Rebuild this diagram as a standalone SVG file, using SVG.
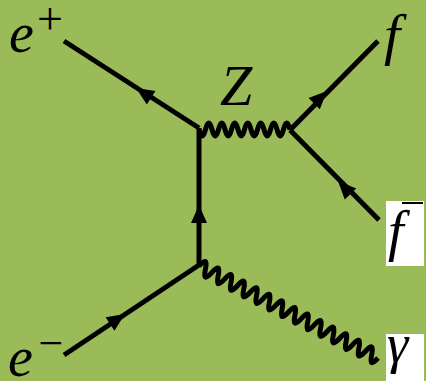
<svg xmlns="http://www.w3.org/2000/svg" xmlns:xlink="http://www.w3.org/1999/xlink" width="426" height="381" viewBox="0 0 426 381">
<style>
.f{stroke:#000;stroke-width:5;fill:none}
.w{stroke:#000;stroke-width:5;fill:none;stroke-linejoin:round}
.lbl{font-family:"Liberation Serif","DejaVu Serif",serif;font-style:italic;fill:#000}
.sup{font-family:"Liberation Serif","DejaVu Serif",serif;fill:#000}
</style>
<defs>
<polygon id="arr" points="0,0 -18,-8 -18,8" fill="#000"/>
</defs>
<rect width="426" height="381" fill="#9BBB59"/>
<g id="connectors">
<line class="f" x1="64" y1="41" x2="199" y2="128"/>
<line class="f" x1="199" y1="128" x2="199" y2="266"/>
<line class="f" x1="64" y1="355" x2="199" y2="265"/>
<line class="f" x1="290" y1="130" x2="378" y2="41"/>
<line class="f" x1="290" y1="130" x2="379" y2="220"/>
<path class="w" transform="translate(199,129.5)" d="M0,0 c2.28,8.6 4.23,8.6 6.5,0 c2.28,-8.6 4.23,-8.6 6.5,0 c2.28,8.6 4.23,8.6 6.5,0 c2.28,-8.6 4.23,-8.6 6.5,0 c2.28,8.6 4.23,8.6 6.5,0 c2.28,-8.6 4.23,-8.6 6.5,0 c2.28,8.6 4.23,8.6 6.5,0 c2.28,-8.6 4.23,-8.6 6.5,0 c2.28,8.6 4.23,8.6 6.5,0 c2.28,-8.6 4.23,-8.6 6.5,0 c2.28,8.6 4.23,8.6 6.5,0 c2.28,-8.6 4.23,-8.6 6.5,0 c2.28,8.6 4.23,8.6 6.5,0 c2.28,-8.6 4.23,-8.6 6.5,0"/>
<path class="w" transform="translate(199,266) rotate(27.2)" d="M0,0 c2.52,-9.3 4.67,-9.3 7.19,0 c2.52,9.3 4.67,9.3 7.19,0 c2.52,-9.3 4.67,-9.3 7.19,0 c2.52,9.3 4.67,9.3 7.19,0 c2.52,-9.3 4.67,-9.3 7.19,0 c2.52,9.3 4.67,9.3 7.19,0 c2.52,-9.3 4.67,-9.3 7.19,0 c2.52,9.3 4.67,9.3 7.19,0 c2.52,-9.3 4.67,-9.3 7.19,0 c2.52,9.3 4.67,9.3 7.19,0 c2.52,-9.3 4.67,-9.3 7.19,0 c2.52,9.3 4.67,9.3 7.19,0 c2.52,-9.3 4.67,-9.3 7.19,0 c2.52,9.3 4.67,9.3 7.19,0 c2.52,-9.3 4.67,-9.3 7.19,0 c2.52,9.3 4.67,9.3 7.19,0 c2.52,-9.3 4.67,-9.3 7.19,0 c2.52,9.3 4.67,9.3 7.19,0 c2.52,-9.3 4.67,-9.3 7.19,0 c2.52,9.3 4.67,9.3 7.19,0 c2.52,-9.3 4.67,-9.3 7.19,0 c2.52,9.3 4.67,9.3 7.19,0 c2.52,-9.3 4.67,-9.3 7.19,0 c2.52,9.3 4.67,9.3 7.19,0 c2.52,-9.3 4.67,-9.3 7.19,0 c2.52,9.3 4.67,9.3 7.19,0 c2.52,-9.3 4.67,-9.3 7.19,0 c2.52,9.3 4.67,9.3 7.19,0"/>
<use xlink:href="#arr" transform="translate(136,88) rotate(212.7)"/>
<use xlink:href="#arr" transform="translate(199,205) rotate(-90)"/>
<use xlink:href="#arr" transform="translate(125,314) rotate(-33.7)"/>
<use xlink:href="#arr" transform="translate(327,91) rotate(-44.7)"/>
<use xlink:href="#arr" transform="translate(338,181) rotate(-134)"/>
</g>
<g id="e-plus">
<text class="lbl" x="9" y="52" font-size="56">e</text>
<text class="sup" x="50" y="34" font-size="46" text-anchor="middle">+</text>
</g>
<g id="e-minus">
<text class="lbl" x="8" y="376" font-size="56">e</text>
<text class="sup" x="51" y="358" font-size="44" text-anchor="middle">−</text>
</g>
<g id="Z">
<text class="lbl" x="220" y="105" font-size="58">Z</text>
</g>
<g id="f">
<text class="lbl" x="384" y="54" font-size="58">f</text>
</g>
<g id="fbar">
<rect x="386" y="201" width="38" height="65" fill="#fff"/>
<line x1="402" y1="203" x2="423" y2="203" stroke="#000" stroke-width="2"/>
<text class="lbl" x="388" y="250" font-size="56">f</text>
</g>
<g id="gamma">
<rect x="386" y="334" width="38" height="47" fill="#fff"/>
<text class="lbl" x="387" y="362" font-size="54">γ</text>
</g>
</svg>
